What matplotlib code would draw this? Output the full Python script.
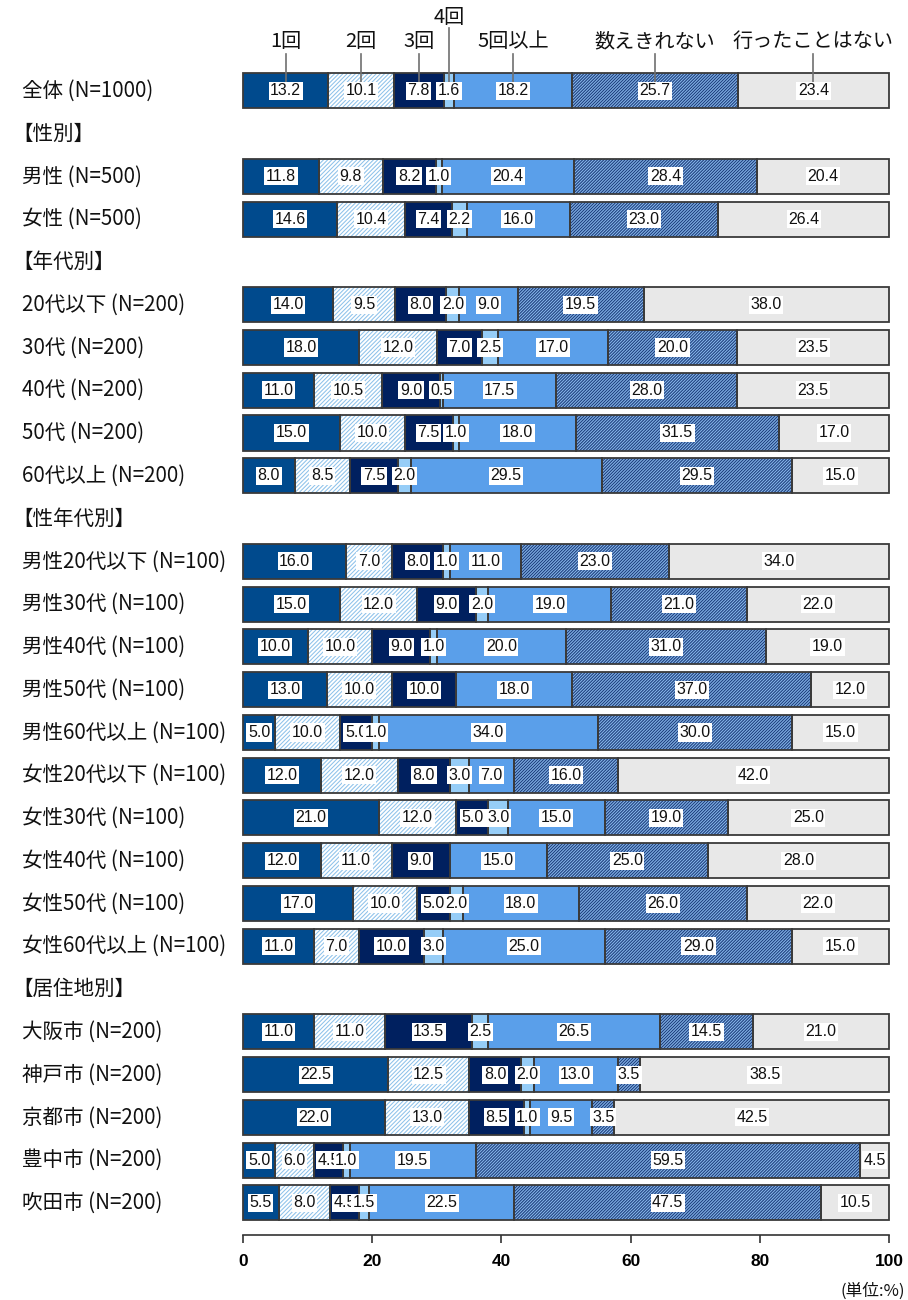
import matplotlib
matplotlib.use("Agg")
import matplotlib.pyplot as plt
import matplotlib.transforms as mtransforms

plt.rcParams['font.family'] = ['Noto Sans CJK JP', 'DejaVu Sans']
plt.rcParams['hatch.linewidth'] = 0.75

# ---- data -------------------------------------------------------------
options = ["1回", "2回", "3回", "4回", "5回以上", "数えきれない", "行ったことはない"]

group_titles = ["", "【性別】", "【年代別】", "【性年代別】", "【居住地別】"]
group_rows = [
    ["全体 (N=1000)"],
    ["男性 (N=500)", "女性 (N=500)"],
    ["20代以下 (N=200)", "30代 (N=200)", "40代 (N=200)", "50代 (N=200)",
     "60代以上 (N=200)"],
    ["男性20代以下 (N=100)", "男性30代 (N=100)", "男性40代 (N=100)",
     "男性50代 (N=100)", "男性60代以上 (N=100)", "女性20代以下 (N=100)",
     "女性30代 (N=100)", "女性40代 (N=100)", "女性50代 (N=100)",
     "女性60代以上 (N=100)"],
    ["大阪市 (N=200)", "神戸市 (N=200)", "京都市 (N=200)", "豊中市 (N=200)",
     "吹田市 (N=200)"],
]

once = [13.2, 11.8, 14.6, 14.0, 18.0, 11.0, 15.0, 8.0, 16.0, 15.0, 10.0, 13.0,
        5.0, 12.0, 21.0, 12.0, 17.0, 11.0, 11.0, 22.5, 22.0, 5.0, 5.5]
twice = [10.1, 9.8, 10.4, 9.5, 12.0, 10.5, 10.0, 8.5, 7.0, 12.0, 10.0, 10.0,
         10.0, 12.0, 12.0, 11.0, 10.0, 7.0, 11.0, 12.5, 13.0, 6.0, 8.0]
three_times = [7.8, 8.2, 7.4, 8.0, 7.0, 9.0, 7.5, 7.5, 8.0, 9.0, 9.0, 10.0,
               5.0, 8.0, 5.0, 9.0, 5.0, 10.0, 13.5, 8.0, 8.5, 4.5, 4.5]
four_times = [1.6, 1.0, 2.2, 2.0, 2.5, 0.5, 1.0, 2.0, 1.0, 2.0, 1.0, 0.0,
              1.0, 3.0, 3.0, 0.0, 2.0, 3.0, 2.5, 2.0, 1.0, 1.0, 1.5]
five_plus = [18.2, 20.4, 16.0, 9.0, 17.0, 17.5, 18.0, 29.5, 11.0, 19.0, 20.0,
             18.0, 34.0, 7.0, 15.0, 15.0, 18.0, 25.0, 26.5, 13.0, 9.5, 19.5,
             22.5]
countless = [25.7, 28.4, 23.0, 19.5, 20.0, 28.0, 31.5, 29.5, 23.0, 21.0, 31.0,
             37.0, 30.0, 16.0, 19.0, 25.0, 26.0, 29.0, 14.5, 3.5, 3.5, 59.5,
             47.5]
never = [23.4, 20.4, 26.4, 38.0, 23.5, 23.5, 17.0, 15.0, 34.0, 22.0, 19.0,
         12.0, 15.0, 42.0, 25.0, 28.0, 22.0, 15.0, 21.0, 38.5, 42.5, 4.5, 10.5]

series = [once, twice, three_times, four_times, five_plus, countless, never]

# ---- styles -----------------------------------------------------------
face_colors = ['#004A8D', '#FFFFFF', '#00205F', '#96CDF7', '#5A9FEA',
               '#86B6EA', '#E8E8E8']
hatches = [None, '/' * 8, None, None, None, '/' * 11, None]
hatch_colors = [None, '#8EC2EA', None, None, None, '#1C3C7A', None]
edge_color = '#3A3A3A'

# ---- layout of rows (group titles take their own slot) -----------------
slots = []      # (y, label, is_title)
data_y = []
y = 0
for title, rows in zip(group_titles, group_rows):
    if title:
        slots.append((y, title, True))
        y += 1
    for r in rows:
        slots.append((y, r, False))
        data_y.append(y)
        y += 1

fig = plt.figure(figsize=(9.08, 13.0), dpi=100)
ax = fig.add_axes([243 / 908, 1 - 1235 / 1300, 646 / 908, (1235 - 60) / 1300])

bar_h = 0.82
lefts = [0.0] * len(data_y)
centers = []
for k, vals in enumerate(series):
    cur_centers = []
    for i, (yy, v) in enumerate(zip(data_y, vals)):
        if v > 0:
            if hatches[k]:
                ax.barh(yy, v, left=lefts[i], height=bar_h,
                        color=face_colors[k], hatch=hatches[k],
                        edgecolor=hatch_colors[k], linewidth=0,
                        zorder=2, clip_on=False)
            else:
                ax.barh(yy, v, left=lefts[i], height=bar_h,
                        color=face_colors[k], linewidth=0,
                        zorder=2, clip_on=False)
            ax.barh(yy, v, left=lefts[i], height=bar_h, fill=False,
                    edgecolor=edge_color, linewidth=1.3, zorder=3,
                    clip_on=False)
        cur_centers.append(lefts[i] + v / 2)
        lefts[i] += v
    centers.append(cur_centers)

# value labels on white boxes
for i, yy in enumerate(data_y):
    for k, vals in enumerate(series):
        v = vals[i]
        if v <= 0:
            continue
        ax.text(centers[k][i], yy, f"{v:.1f}", ha='center', va='center',
                fontsize=11.5, family=['Liberation Sans', 'DejaVu Sans'],
                color='#111111', zorder=5,
                bbox=dict(boxstyle='square,pad=0.1', facecolor='white',
                          edgecolor='none'))

# option names with leader lines down to the first bar
first_y = data_y[0]
for k, name in enumerate(options):
    cx = centers[k][0]
    ty = -1.72 if name == "4回" else -1.15
    ly = -1.47 if name == "4回" else -0.86
    ax.plot([cx, cx], [ly, first_y], color='#707070', lw=1.2,
            zorder=4, clip_on=False)
    ax.text(cx, ty, name, ha='center', va='center', fontsize=14.5,
            color='#111111', clip_on=False)

# row labels
trans = mtransforms.blended_transform_factory(fig.transFigure, ax.transData)
for yy, label, is_title in slots:
    x = 12 / 908 if is_title else 22 / 908
    ax.text(x, yy, label, transform=trans, ha='left', va='center',
            fontsize=14.8, color='#111111')

ax.set_xlim(0, 100)
ax.set_ylim(26.75, -0.72)
ax.set_yticks([])
ax.set_xticks([0, 20, 40, 60, 80, 100])
for s in ['left', 'right', 'top']:
    ax.spines[s].set_visible(False)
ax.spines['bottom'].set_color('#333333')
ax.spines['bottom'].set_linewidth(1.2)
ax.tick_params(axis='x', direction='out', length=6, width=1.2,
               color='#333333', pad=8)
for t in ax.get_xticklabels():
    t.set_fontfamily(['Liberation Sans', 'DejaVu Sans'])
    t.set_fontweight('bold')
    t.set_fontsize(12.5)
ax.patch.set_visible(False)

fig.text(905 / 908, 1 - 1291 / 1300, "(単位:%)", ha='right', va='center',
         fontsize=12, color='#111111')

fig.savefig("out.png", dpi=100, facecolor='white')
